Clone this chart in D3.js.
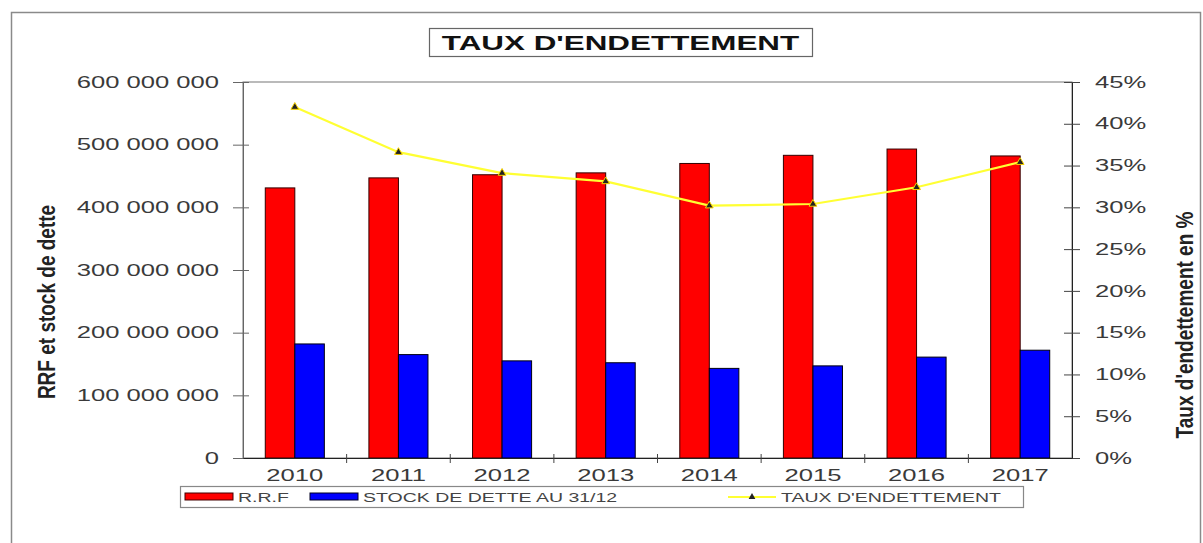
<!DOCTYPE html>
<html>
<head>
<meta charset="utf-8">
<script src="https://cdnjs.cloudflare.com/ajax/libs/d3/7.8.5/d3.min.js"></script>
<style>
  body { margin: 0; background: #fff; }
  text { font-family: "Liberation Sans", Arial, sans-serif; fill: #333; }
</style>
</head>
<body>
<div id="root"></div>
<script>
// data
const years = ['2010', '2011', '2012', '2013', '2014', '2015', '2016', '2017'];
const rrf = [431e6, 447e6, 452e6, 455e6, 470e6, 483e6, 493e6, 482e6];
const stock = [182e6, 165e6, 155e6, 152e6, 143e6, 147e6, 161e6, 172e6];
const taux = [0.420, 0.366, 0.341, 0.331, 0.302, 0.304, 0.324, 0.354];
const leftTicks = [0, 100e6, 200e6, 300e6, 400e6, 500e6, 600e6];
const rightTicks = [0, 0.05, 0.10, 0.15, 0.20, 0.25, 0.30, 0.35, 0.40, 0.45];
const seriesNames = ['R.R.F', 'STOCK DE DETTE AU 31/12', "TAUX D'ENDETTEMENT"];

const W = 1203, H = 543;
const plot = { left: 243, right: 1072, top: 82, bottom: 458 };
const SX = 1.6; // the original picture is stretched horizontally

const svg = d3.select('#root').append('svg')
    .attr('width', W)
    .attr('height', H);

// stretch helper for text
const stretch = (sel, k) => sel.each(function() {
    const t = d3.select(this);
    const x = +t.attr('x') || 0;
    t.attr('x', x / k).attr('transform', `scale(${k},1)`);
});

// outer frame
svg.append('rect')
    .attr('x', 11.5).attr('y', 12.5)
    .attr('width', 1189).attr('height', 560)
    .attr('fill', 'none')
    .attr('stroke', '#8a8a8a')
    .attr('stroke-width', 1.5);

// title
svg.append('rect')
    .attr('x', 429.5).attr('y', 28.5)
    .attr('width', 383).attr('height', 28)
    .attr('fill', '#fff')
    .attr('stroke', '#666')
    .attr('stroke-width', 1.2);
svg.append('text')
    .attr('x', 620.5).attr('y', 50)
    .attr('text-anchor', 'middle')
    .attr('font-size', 20)
    .attr('font-weight', 'bold')
    .style('fill', '#111')
    .text("TAUX D'ENDETTEMENT")
    .call(stretch, 1.57);

// scales
const x0 = d3.scaleBand()
    .domain(years)
    .range([plot.left, plot.right])
    .paddingInner(0.43)
    .paddingOuter(0.215);
const x1 = d3.scaleBand()
    .domain(['rrf', 'stock'])
    .range([0, x0.bandwidth()]);
const yL = d3.scaleLinear().domain([0, 600e6]).range([plot.bottom, plot.top]);
const yR = d3.scaleLinear().domain([0, 0.45]).range([plot.bottom, plot.top]);
const cx = d => x0(d) + x0.bandwidth() / 2;

// plot frame
svg.append('rect')
    .attr('x', plot.left).attr('y', plot.top)
    .attr('width', plot.right - plot.left)
    .attr('height', plot.bottom - plot.top)
    .attr('fill', 'none')
    .attr('stroke', '#777')
    .attr('stroke-width', 1);

// bars
const rows = years.map((y, i) => ({ year: y, rrf: rrf[i], stock: stock[i], taux: taux[i] }));
const groups = svg.selectAll('.grp')
    .data(rows)
    .enter()
    .append('g')
    .attr('class', 'grp')
    .attr('transform', d => `translate(${x0(d.year)},0)`);
groups.append('rect')
    .attr('x', x1('rrf'))
    .attr('y', d => yL(d.rrf))
    .attr('width', x1.bandwidth())
    .attr('height', d => yL(0) - yL(d.rrf))
    .attr('fill', '#ff0000')
    .attr('stroke', '#300')
    .attr('stroke-width', 1);
groups.append('rect')
    .attr('x', x1('stock'))
    .attr('y', d => yL(d.stock))
    .attr('width', x1.bandwidth())
    .attr('height', d => yL(0) - yL(d.stock))
    .attr('fill', '#0000ff')
    .attr('stroke', '#001')
    .attr('stroke-width', 1);

// line
const line = d3.line()
    .x(d => cx(d.year))
    .y(d => yR(d.taux));
svg.append('path')
    .datum(rows)
    .attr('d', line)
    .attr('fill', 'none')
    .attr('stroke', '#ffff33')
    .attr('stroke-width', 2.2);
svg.selectAll('.mark')
    .data(rows)
    .enter()
    .append('path')
    .attr('class', 'mark')
    .attr('d', d3.symbol(d3.symbolTriangle, 26))
    .attr('transform', d => `translate(${cx(d.year)},${yR(d.taux)})`)
    .attr('fill', '#222')
    .attr('stroke', '#f5d000')
    .attr('stroke-width', 1);

// left axis
const fr = d3.formatLocale({ thousands: ' ', grouping: [3], decimal: ',', currency: ['', ''] });
const leftAxis = d3.axisLeft(yL)
    .tickValues(leftTicks)
    .tickFormat(fr.format(',d'))
    .tickPadding(18);
const gL = svg.append('g')
    .attr('transform', `translate(${plot.left},0)`)
    .call(leftAxis);
gL.select('.domain').attr('stroke', '#666');
gL.selectAll('.tick line').attr('x1', 6).attr('x2', -10).attr('stroke', '#666');
gL.selectAll('.tick text')
    .attr('font-size', 16)
    .attr('font-family', null)
    .style('fill', '#3a3a3a')
    .call(stretch, SX);

// right axis
const rightAxis = d3.axisRight(yR)
    .tickValues(rightTicks)
    .tickFormat(d => Math.round(d * 100) + '%')
    .tickPadding(17);
const gR = svg.append('g')
    .attr('transform', `translate(${plot.right},0)`)
    .call(rightAxis);
gR.select('.domain').attr('stroke', '#222');
gR.selectAll('.tick line').attr('x1', -8).attr('x2', 8).attr('stroke', '#444');
gR.selectAll('.tick text')
    .attr('font-size', 16)
    .attr('font-family', null)
    .style('fill', '#3a3a3a')
    .call(stretch, SX);

// bottom axis
const bottomAxis = d3.axisBottom(x0).tickSize(0).tickPadding(12);
const gB = svg.append('g')
    .attr('transform', `translate(0,${plot.bottom})`)
    .call(bottomAxis);
gB.select('.domain').attr('stroke', '#222').attr('stroke-width', 1.2);
gB.selectAll('.tick text')
    .attr('font-size', 16)
    .attr('font-family', null)
    .style('fill', '#3a3a3a')
    .call(stretch, SX);
// ticks between categories
gB.selectAll('.sep')
    .data(years.slice(1))
    .enter()
    .append('line')
    .attr('class', 'sep')
    .attr('x1', d => cx(d) - x0.step() / 2)
    .attr('x2', d => cx(d) - x0.step() / 2)
    .attr('y1', -4).attr('y2', 5)
    .attr('stroke', '#444');

// axis titles
svg.append('text')
    .attr('transform', `translate(55,${(plot.top + plot.bottom) / 2 + 32}) rotate(-90) scale(1,1.25)`)
    .attr('text-anchor', 'middle')
    .attr('font-size', 19)
    .attr('font-weight', 'bold')
    .style('fill', '#222')
    .text('RRF et stock de dette');
svg.append('text')
    .attr('transform', `translate(1193,${(plot.top + plot.bottom) / 2 + 55}) rotate(-90) scale(1,1.25)`)
    .attr('text-anchor', 'middle')
    .attr('font-size', 19)
    .attr('font-weight', 'bold')
    .style('fill', '#222')
    .text("Taux d'endettement en %");

// legend
const lg = svg.append('g').attr('transform', 'translate(180,486)');
lg.append('rect')
    .attr('x', 0.5).attr('y', 0.5)
    .attr('width', 843).attr('height', 21)
    .attr('fill', '#fff')
    .attr('stroke', '#888')
    .attr('stroke-width', 1.2);
const lx = [5, 130, 548];
lg.append('rect')
    .attr('x', lx[0]).attr('y', 7)
    .attr('width', 48).attr('height', 7)
    .attr('fill', '#ff0000').attr('stroke', '#400');
lg.append('rect')
    .attr('x', lx[1]).attr('y', 7)
    .attr('width', 48).attr('height', 7)
    .attr('fill', '#0000ff').attr('stroke', '#002');
lg.append('line')
    .attr('x1', lx[2]).attr('x2', lx[2] + 48)
    .attr('y1', 11).attr('y2', 11)
    .attr('stroke', '#ffff33').attr('stroke-width', 2);
lg.append('path')
    .attr('d', d3.symbol(d3.symbolTriangle, 20))
    .attr('transform', `translate(${lx[2] + 24},11)`)
    .attr('fill', '#222');
lg.selectAll('.ltxt')
    .data(seriesNames)
    .enter()
    .append('text')
    .attr('class', 'ltxt')
    .attr('x', (d, i) => lx[i] + 53)
    .attr('y', 16)
    .attr('font-size', 13)
    .style('fill', '#444')
    .text(d => d)
    .call(stretch, 1.5);
</script>
</body>
</html>
